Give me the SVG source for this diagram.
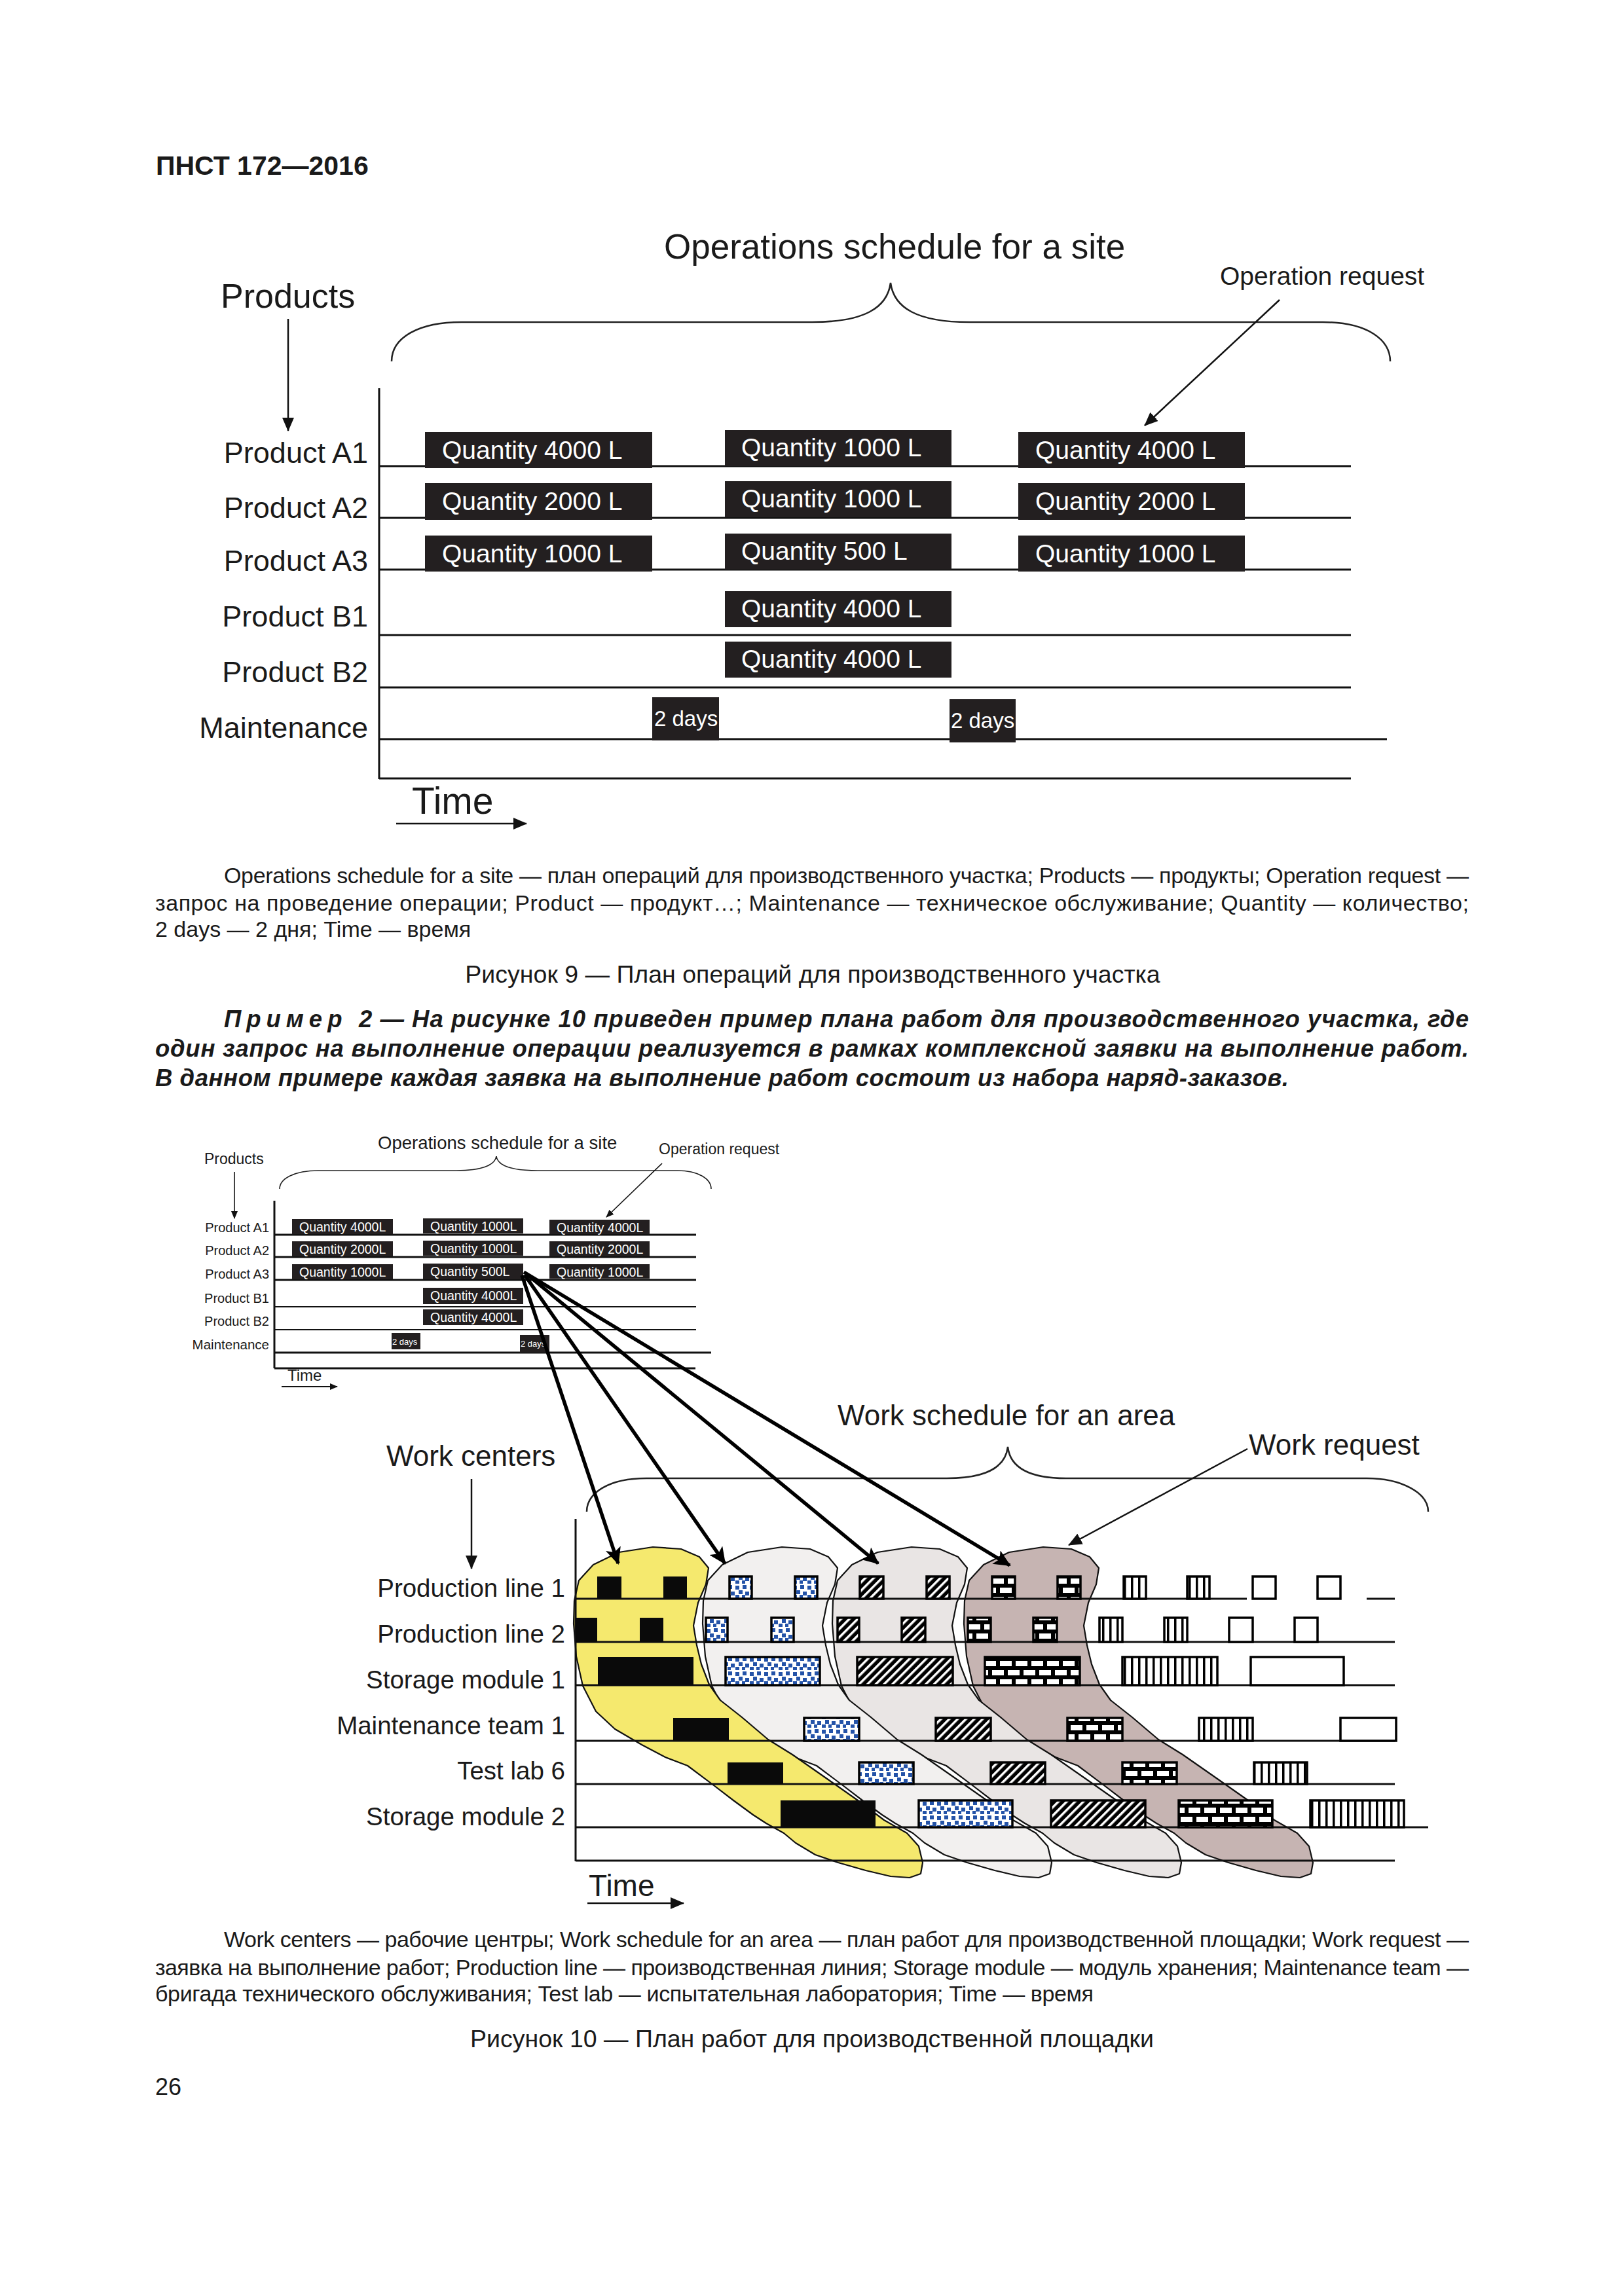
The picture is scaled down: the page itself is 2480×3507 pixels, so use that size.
<svg xmlns="http://www.w3.org/2000/svg" xmlns:xlink="http://www.w3.org/1999/xlink" width="2480" height="3507" viewBox="0 0 2480 3507">
<style>
text{font-family:"Liberation Sans",Arial,"Noto Sans",sans-serif;fill:#1a1a1a}
.r{text-anchor:end}
.m{text-anchor:middle}
.ln{stroke:#111;stroke-width:3;fill:none}
.lt{stroke:#111;stroke-width:2.5;fill:none}
.br{stroke:#222;stroke-width:2.5;fill:none}
.qb{fill:#231f20}
.qt{fill:#fff}
.bk{fill:#0a0a0a}
.bl{fill:url(#pBlue);stroke:#000;stroke-width:3.5}
.ht{fill:url(#pHatch);stroke:#000;stroke-width:3.5}
.bw{fill:url(#pBrick);stroke:#000;stroke-width:3.5}
.vl{fill:url(#pVl);stroke:#000;stroke-width:3.5}
.em{fill:#fff;stroke:#000;stroke-width:3.5}
.blob{stroke:#111;stroke-width:2.2;stroke-linejoin:round}
.thick{stroke:#000;stroke-width:5.5;fill:none}
.bi{font-size:36.5px;font-weight:bold;font-style:italic}
</style>
<defs>
<marker id="ah" markerUnits="userSpaceOnUse" markerWidth="22" markerHeight="18" refX="20" refY="9" orient="auto"><path d="M0,0 L21,9 L0,18 z" fill="#111"/></marker>
<marker id="ahs" markerUnits="userSpaceOnUse" markerWidth="12" markerHeight="10" refX="11" refY="5" orient="auto"><path d="M0,0 L12,5 L0,10 z" fill="#111"/></marker>
<marker id="ahb" markerUnits="userSpaceOnUse" markerWidth="28" markerHeight="24" refX="24" refY="12" orient="auto"><path d="M0,0 L26,12 L0,24 L6,12 z" fill="#000"/></marker>
<pattern id="pBlue" width="22" height="22" patternUnits="userSpaceOnUse">
<rect width="22" height="22" fill="#fff"/>
<g fill="#2453a8"><rect x="1" y="2" width="6" height="6"/><rect x="12" y="1" width="6" height="6"/><rect x="6" y="9" width="6" height="6"/><rect x="16" y="11" width="6" height="6"/><rect x="1" y="16" width="6" height="5"/><rect x="11" y="16" width="5" height="5"/></g>
</pattern>
<pattern id="pHatch" width="9" height="9" patternUnits="userSpaceOnUse" patternTransform="rotate(45)">
<rect width="9" height="9" fill="#000"/><rect x="0" y="0" width="3.5" height="9" fill="#fff"/>
</pattern>
<pattern id="pBrick" width="24" height="28" patternUnits="userSpaceOnUse">
<rect width="24" height="28" fill="#000"/>
<g fill="#fff"><rect x="3" y="3" width="18" height="8"/><rect x="0" y="17" width="9" height="8"/><rect x="15" y="17" width="9" height="8"/></g>
</pattern>
<pattern id="pVl" width="11" height="11" patternUnits="userSpaceOnUse">
<rect width="11" height="11" fill="#fff"/><rect x="0" width="3.5" height="11" fill="#000"/>
</pattern>
<path id="blobShape" d="M997,2363 L1040,2366 L1068,2378 L1082,2395 L1078,2420 L1066,2448 L1059,2483 L1064,2513 L1071,2542 L1083,2573 L1100,2597 L1133,2623 L1173,2657 L1210,2680 L1263,2717 L1310,2750 L1350,2780 L1385,2800 L1403,2820 L1409,2845 L1406,2862 L1389,2868 L1360,2866 L1322,2857 L1280,2845 L1245,2833 L1215,2815 L1197,2800 L1170,2785 L1150,2772 L1120,2750 L1090,2727 L1050,2697 L1016,2684 L980,2665 L939,2641 L910,2614 L890,2575 L880,2530 L876,2480 L877,2445 L884,2414 L906,2390 L945,2371 Z"/>
</defs>
<rect width="2480" height="3507" fill="#fff"/>

<g id="header"><text x="238" y="267" font-size="41" font-weight="bold">ПНСТ 172—2016</text></g>

<!-- Figure 9 -->
<g id="fig9">
<g id="fig9-labels">
<text x="1014" y="395" font-size="53">Operations schedule for a site</text>
<text x="1863" y="435" font-size="39">Operation request</text>
<text x="337" y="470" font-size="52">Products</text>
<text class="r" x="562" y="707" font-size="45">Product A1</text>
<text class="r" x="562" y="791" font-size="45">Product A2</text>
<text class="r" x="562" y="872" font-size="45">Product A3</text>
<text class="r" x="562" y="957" font-size="45">Product B1</text>
<text class="r" x="562" y="1042" font-size="45">Product B2</text>
<text class="r" x="562" y="1127" font-size="45">Maintenance</text>
<text x="629" y="1243" font-size="57">Time</text>
</g>
<path class="br" d="M598,552 C598,515 640,492 705,492 L1240,492 C1320,492 1355,470 1360,432 C1365,470 1400,492 1480,492 L2020,492 C2090,492 2123,520 2123,552"/>
<g id="fig9-grid">
<line class="ln" x1="579" y1="593" x2="579" y2="1190"/>
<line class="ln" x1="579" y1="712" x2="2063" y2="712"/>
<line class="ln" x1="579" y1="791" x2="2063" y2="791"/>
<line class="ln" x1="579" y1="870" x2="2063" y2="870"/>
<line class="ln" x1="579" y1="970" x2="2063" y2="970"/>
<line class="ln" x1="579" y1="1050" x2="2063" y2="1050"/>
<line class="ln" x1="579" y1="1129" x2="2118" y2="1129"/>
<line class="ln" x1="579" y1="1189" x2="2063" y2="1189"/>
</g>
<g id="fig9-boxes">
<g id="q9-1-a1"><rect class="qb" x="649" y="660" width="347" height="55"/><text class="qt" x="675" y="701" font-size="39">Quantity 4000 L</text></g>
<g id="q9-1-a2"><rect class="qb" x="649" y="738" width="347" height="56"/><text class="qt" x="675" y="779" font-size="39">Quantity 2000 L</text></g>
<g id="q9-1-a3"><rect class="qb" x="649" y="818" width="347" height="55"/><text class="qt" x="675" y="859" font-size="39">Quantity 1000 L</text></g>
<g id="q9-2-a1"><rect class="qb" x="1107" y="657" width="346" height="55"/><text class="qt" x="1132" y="697" font-size="39">Quantity 1000 L</text></g>
<g id="q9-2-a2"><rect class="qb" x="1107" y="735" width="346" height="55"/><text class="qt" x="1132" y="775" font-size="39">Quantity 1000 L</text></g>
<g id="q9-2-a3"><rect class="qb" x="1107" y="815" width="346" height="55"/><text class="qt" x="1132" y="855" font-size="39">Quantity 500 L</text></g>
<g id="q9-2-b1"><rect class="qb" x="1107" y="903" width="346" height="55"/><text class="qt" x="1132" y="943" font-size="39">Quantity 4000 L</text></g>
<g id="q9-2-b2"><rect class="qb" x="1107" y="980" width="346" height="55"/><text class="qt" x="1132" y="1020" font-size="39">Quantity 4000 L</text></g>
<g id="q9-3-a1"><rect class="qb" x="1555" y="660" width="346" height="55"/><text class="qt" x="1581" y="701" font-size="39">Quantity 4000 L</text></g>
<g id="q9-3-a2"><rect class="qb" x="1555" y="738" width="346" height="56"/><text class="qt" x="1581" y="779" font-size="39">Quantity 2000 L</text></g>
<g id="q9-3-a3"><rect class="qb" x="1555" y="818" width="346" height="55"/><text class="qt" x="1581" y="859" font-size="39">Quantity 1000 L</text></g>
<g id="d9-1"><rect class="qb" x="996" y="1065" width="102" height="66"/><text class="qt" x="999" y="1109" font-size="33">2 days</text></g>
<g id="d9-2"><rect class="qb" x="1450" y="1068" width="101" height="66"/><text class="qt" x="1452" y="1112" font-size="33">2 days</text></g>
</g>
<g id="fig9-connectors">
<line class="lt" x1="440" y1="487" x2="440" y2="658" marker-end="url(#ah)"/>
<line class="lt" x1="1954" y1="458" x2="1748" y2="650" marker-end="url(#ah)"/>
<line class="lt" x1="605" y1="1258" x2="804" y2="1258" marker-end="url(#ah)"/>
</g>
</g>

<g id="fig9-caption">
<text x="342" y="1349" font-size="34" textLength="1901" lengthAdjust="spacing">Operations schedule for a site — план операций для производственного участка; Products — продукты; Operation request —</text>
<text x="237" y="1391" font-size="34" textLength="2006" lengthAdjust="spacing">запрос на проведение операции; Product — продукт…; Maintenance — техническое обслуживание; Quantity — количество;</text>
<text x="237" y="1431" font-size="34">2 days — 2 дня; Time — время</text>
<text class="m" x="1241" y="1501" font-size="37.5">Рисунок 9 — План операций для производственного участка</text>
</g>

<g id="example-text">
<text class="bi" x="342" y="1569" letter-spacing="8">Пример</text>
<text class="bi" x="548" y="1569" textLength="1695" lengthAdjust="spacing">2 — На рисунке 10 приведен пример плана работ для производственного участка, где</text>
<text class="bi" x="237" y="1614" textLength="2006" lengthAdjust="spacing">один запрос на выполнение операции реализуется в рамках комплексной заявки на выполнение работ.</text>
<text class="bi" x="237" y="1659" textLength="1731" lengthAdjust="spacing">В данном примере каждая заявка на выполнение работ состоит из набора наряд-заказов.</text>
</g>

<!-- Figure 10 : small operations schedule -->
<g id="fig10-ops">
<text x="577" y="1755" font-size="27.5">Operations schedule for a site</text>
<text x="1006" y="1763" font-size="23">Operation request</text>
<text x="312" y="1778" font-size="23">Products</text>
<text class="r" x="411" y="1882" font-size="20">Product A1</text>
<text class="r" x="411" y="1917" font-size="20">Product A2</text>
<text class="r" x="411" y="1953" font-size="20">Product A3</text>
<text class="r" x="411" y="1990" font-size="20">Product B1</text>
<text class="r" x="411" y="2025" font-size="20">Product B2</text>
<text class="r" x="411" y="2061" font-size="20.5">Maintenance</text>
<text x="439" y="2109" font-size="24">Time</text>
<path class="br" style="stroke-width:1.6" d="M427,1816 C427,1800 450,1788 486,1788 L697,1788 C735,1788 756,1780 758,1766 C760,1780 781,1788 821,1788 L1035,1788 C1065,1788 1086,1800 1086,1816"/>
<line class="ln" x1="419" y1="1834" x2="419" y2="2090"/>
<line class="ln" x1="419" y1="1886" x2="1063" y2="1886"/>
<line class="ln" x1="419" y1="1920" x2="1063" y2="1920"/>
<line class="ln" x1="419" y1="1955" x2="1063" y2="1955"/>
<line class="ln" style="stroke-width:2.2" x1="419" y1="1996" x2="1063" y2="1996"/>
<line class="ln" style="stroke-width:2.2" x1="419" y1="2031" x2="1063" y2="2031"/>
<line class="ln" x1="419" y1="2066" x2="1086" y2="2066"/>
<line class="ln" x1="419" y1="2090" x2="1062" y2="2090"/>
<g id="q10-1-a1"><rect class="qb" x="446" y="1862" width="154" height="23"/><text class="qt" x="457" y="1881" font-size="19.5">Quantity 4000L</text></g>
<g id="q10-1-a2"><rect class="qb" x="446" y="1896" width="154" height="23"/><text class="qt" x="457" y="1915" font-size="19.5">Quantity 2000L</text></g>
<g id="q10-1-a3"><rect class="qb" x="446" y="1931" width="154" height="23"/><text class="qt" x="457" y="1950" font-size="19.5">Quantity 1000L</text></g>
<g id="q10-2-a1"><rect class="qb" x="646" y="1861" width="153" height="23"/><text class="qt" x="657" y="1880" font-size="19.5">Quantity 1000L</text></g>
<g id="q10-2-a2"><rect class="qb" x="646" y="1895" width="153" height="23"/><text class="qt" x="657" y="1914" font-size="19.5">Quantity 1000L</text></g>
<g id="q10-2-a3"><rect class="qb" x="646" y="1930" width="153" height="24"/><text class="qt" x="657" y="1949" font-size="19.5">Quantity 500L</text></g>
<g id="q10-2-b1"><rect class="qb" x="646" y="1967" width="153" height="25"/><text class="qt" x="657" y="1986" font-size="19.5">Quantity 4000L</text></g>
<g id="q10-2-b2"><rect class="qb" x="646" y="2000" width="153" height="24"/><text class="qt" x="657" y="2019" font-size="19.5">Quantity 4000L</text></g>
<g id="q10-3-a1"><rect class="qb" x="839" y="1863" width="153" height="22"/><text class="qt" x="850" y="1882" font-size="19.5">Quantity 4000L</text></g>
<g id="q10-3-a2"><rect class="qb" x="839" y="1896" width="153" height="23"/><text class="qt" x="850" y="1915" font-size="19.5">Quantity 2000L</text></g>
<g id="q10-3-a3"><rect class="qb" x="839" y="1931" width="153" height="22"/><text class="qt" x="850" y="1950" font-size="19.5">Quantity 1000L</text></g>
<g id="d10-1"><rect class="qb" x="598" y="2036" width="44" height="25"/><text class="qt" x="599" y="2054" font-size="13">2 days</text></g>
<g id="d10-2"><rect class="qb" x="794" y="2039" width="45" height="27"/><text class="qt" x="795" y="2057" font-size="13">2 days</text></g>
<line class="lt" style="stroke-width:1.6" x1="358" y1="1790" x2="358" y2="1861" marker-end="url(#ahs)"/>
<line class="lt" style="stroke-width:1.6" x1="1011" y1="1777" x2="926" y2="1859" marker-end="url(#ahs)"/>
<line class="lt" style="stroke-width:2" x1="430" y1="2118" x2="515" y2="2118" marker-end="url(#ahs)"/>
</g>

<!-- Figure 10 : work schedule -->
<g id="fig10-work">
<g id="blobs">
<use xlink:href="#blobShape" class="blob" fill="#c6b4b2" transform="translate(596,0)"/>
<use xlink:href="#blobShape" class="blob" fill="#e9e5e4" transform="translate(395,0)"/>
<use xlink:href="#blobShape" class="blob" fill="#f2f0ef" transform="translate(197,0)"/>
<use xlink:href="#blobShape" class="blob" fill="#f5e96e"/>
</g>
<text x="1279" y="2177" font-size="44">Work schedule for an area</text>
<text x="1907" y="2222" font-size="44">Work request</text>
<text x="590" y="2239" font-size="44">Work centers</text>
<text class="r" x="863" y="2439" font-size="38.5">Production line 1</text>
<text class="r" x="863" y="2509" font-size="38.5">Production line 2</text>
<text class="r" x="863" y="2579" font-size="38.5">Storage module 1</text>
<text class="r" x="863" y="2649" font-size="38.5">Maintenance team 1</text>
<text class="r" x="863" y="2718" font-size="38.5">Test lab 6</text>
<text class="r" x="863" y="2788" font-size="38.5">Storage module 2</text>
<text x="899" y="2896" font-size="46">Time</text>
<path class="br" d="M896,2309 C896,2280 930,2258 987,2258 L1446,2258 C1500,2258 1535,2245 1539,2210 C1543,2245 1578,2258 1628,2258 L2087,2258 C2140,2258 2181,2280 2181,2309"/>
<g id="fig10-grid">
<line class="ln" x1="879" y1="2320" x2="879" y2="2843"/>
<line class="ln" x1="879" y1="2442" x2="1904" y2="2442"/>
<line class="ln" x1="2087" y1="2442" x2="2130" y2="2442"/>
<line class="ln" x1="879" y1="2508" x2="2130" y2="2508"/>
<line class="ln" x1="879" y1="2574" x2="2130" y2="2574"/>
<line class="ln" x1="879" y1="2659" x2="2130" y2="2659"/>
<line class="ln" x1="879" y1="2725" x2="2130" y2="2725"/>
<line class="ln" x1="879" y1="2791" x2="2181" y2="2791"/>
<line class="ln" x1="879" y1="2842" x2="2130" y2="2842"/>
</g>
<g id="row-pl1">
<rect class="bk" x="912" y="2408" width="37" height="34"/><rect class="bk" x="1013" y="2408" width="36" height="34"/>
<rect class="bl" x="1114" y="2408" width="34" height="34"/><rect class="bl" x="1214" y="2408" width="34" height="34"/>
<rect class="ht" x="1313" y="2408" width="36" height="34"/><rect class="ht" x="1415" y="2408" width="35" height="34"/>
<rect class="bw" x="1515" y="2408" width="35" height="34"/><rect class="bw" x="1615" y="2408" width="35" height="34"/>
<rect class="vl" x="1716" y="2408" width="34" height="34"/><rect class="vl" x="1813" y="2408" width="34" height="34"/>
<rect class="em" x="1913" y="2408" width="35" height="34"/><rect class="em" x="2012" y="2408" width="35" height="34"/>
</g>
<g id="row-pl2">
<rect class="bk" x="879" y="2471" width="33" height="37"/><rect class="bk" x="977" y="2471" width="36" height="37"/>
<rect class="bl" x="1078" y="2471" width="33" height="37"/><rect class="bl" x="1178" y="2471" width="34" height="37"/>
<rect class="ht" x="1279" y="2471" width="33" height="37"/><rect class="ht" x="1377" y="2471" width="36" height="37"/>
<rect class="bw" x="1478" y="2471" width="35" height="37"/><rect class="bw" x="1578" y="2471" width="36" height="37"/>
<rect class="vl" x="1679" y="2471" width="35" height="37"/><rect class="vl" x="1778" y="2471" width="35" height="37"/>
<rect class="em" x="1877" y="2471" width="36" height="37"/><rect class="em" x="1977" y="2471" width="35" height="37"/>
</g>
<g id="row-sm1">
<rect class="bk" x="913" y="2531" width="146" height="43"/>
<rect class="bl" x="1108" y="2531" width="144" height="43"/>
<rect class="ht" x="1309" y="2531" width="146" height="43"/>
<rect class="bw" x="1504" y="2531" width="145" height="43"/>
<rect class="vl" x="1714" y="2531" width="145" height="43"/>
<rect class="em" x="1910" y="2531" width="142" height="43"/>
</g>
<g id="row-mt1">
<rect class="bk" x="1028" y="2624" width="85" height="35"/>
<rect class="bl" x="1228" y="2624" width="84" height="35"/>
<rect class="ht" x="1429" y="2624" width="84" height="35"/>
<rect class="bw" x="1630" y="2624" width="84" height="35"/>
<rect class="vl" x="1831" y="2624" width="82" height="35"/>
<rect class="em" x="2047" y="2624" width="85" height="35"/>
</g>
<g id="row-tl6">
<rect class="bk" x="1111" y="2692" width="85" height="33"/>
<rect class="bl" x="1312" y="2692" width="83" height="33"/>
<rect class="ht" x="1513" y="2692" width="83" height="33"/>
<rect class="bw" x="1714" y="2692" width="83" height="33"/>
<rect class="vl" x="1915" y="2692" width="81" height="33"/>
</g>
<g id="row-sm2">
<rect class="bk" x="1192" y="2750" width="145" height="41"/>
<rect class="bl" x="1403" y="2750" width="143" height="41"/>
<rect class="ht" x="1605" y="2750" width="144" height="41"/>
<rect class="bw" x="1800" y="2750" width="143" height="41"/>
<rect class="vl" x="2001" y="2750" width="143" height="41"/>
</g>
<g id="fig10-connectors">
<line class="lt" x1="720" y1="2259" x2="720" y2="2396" marker-end="url(#ah)"/>
<line class="lt" x1="1905" y1="2213" x2="1632" y2="2360" marker-end="url(#ah)"/>
<line class="lt" style="stroke-width:2.5" x1="897" y1="2907" x2="1044" y2="2907" marker-end="url(#ah)"/>
<line class="thick" x1="797" y1="1948" x2="944" y2="2388" marker-end="url(#ahb)"/>
<line class="thick" x1="801" y1="1947" x2="1107" y2="2388" marker-end="url(#ahb)"/>
<line class="thick" x1="804" y1="1946" x2="1341" y2="2388" marker-end="url(#ahb)"/>
<line class="thick" x1="800" y1="1943" x2="1542" y2="2391" marker-end="url(#ahb)"/>
</g>
</g>

<g id="fig10-caption">
<text x="342" y="2974" font-size="34" textLength="1901" lengthAdjust="spacing">Work centers — рабочие центры; Work schedule for an area — план работ для производственной площадки; Work request —</text>
<text x="237" y="3017" font-size="34" textLength="2006" lengthAdjust="spacing">заявка на выполнение работ; Production line — производственная линия; Storage module — модуль хранения; Maintenance team —</text>
<text x="237" y="3057" font-size="34" textLength="1433" lengthAdjust="spacing">бригада технического обслуживания; Test lab — испытательная лаборатория; Time — время</text>
<text class="m" x="1240" y="3127" font-size="37.5">Рисунок 10 — План работ для производственной площадки</text>
<text x="237" y="3200" font-size="36">26</text>
</g>
</svg>
